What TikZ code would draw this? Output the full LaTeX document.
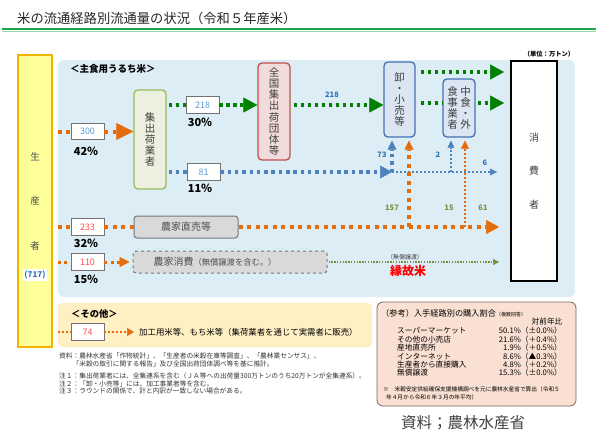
\documentclass[tikz,border=0pt]{standalone}
\usepackage{fontspec}
\setmainfont{Noto Sans CJK JP}
\usepackage{tikz}
\usetikzlibrary{arrows.meta}

\definecolor{barfill}{RGB}{255,255,153}
\definecolor{bardraw}{RGB}{240,180,0}
\definecolor{panelblue}{RGB}{221,237,246}
\definecolor{panelcream}{RGB}{255,240,196}
\definecolor{refpink}{RGB}{250,224,210}
\definecolor{refdraw}{RGB}{120,100,95}
\definecolor{shukafill}{RGB}{235,241,222}
\definecolor{shukadraw}{RGB}{155,187,89}
\definecolor{zenfill}{RGB}{242,220,219}
\definecolor{zendraw}{RGB}{192,80,77}
\definecolor{oroshifill}{RGB}{220,230,242}
\definecolor{oroshidraw}{RGB}{68,114,176}
\definecolor{grayfill}{RGB}{217,217,217}
\definecolor{graydraw}{RGB}{118,118,118}
\definecolor{flowOrange}{RGB}{228,108,10}
\definecolor{flowGreen}{RGB}{0,128,0}
\definecolor{flowBlue}{RGB}{79,129,189}
\definecolor{thinGreen}{RGB}{118,146,60}
\definecolor{numBlue}{RGB}{91,155,213}
\definecolor{numRed}{RGB}{255,80,80}
\definecolor{lblBlue}{RGB}{46,117,182}
\definecolor{titleGreen}{RGB}{30,165,75}

\begin{document}
\begin{tikzpicture}[x=1pt, y=-1pt,
    prodbar/.style={rectangle, draw=bardraw, fill=barfill, line width=1.6pt, minimum width=34pt, minimum height=292pt, inner sep=0pt, align=center, text=black!70, font=\fontsize{9.5}{44.5}\selectfont},
    stagebox/.style={rectangle, rounded corners=4pt, line width=1.3pt, inner sep=0pt, align=center, text=black!75, font=\fontsize{10.5}{11.2}\selectfont},
    graybox/.style={rectangle, rounded corners=3pt, draw=graydraw, fill=grayfill, line width=1pt, minimum height=22pt, inner sep=0pt, text=black!70},
    valbox/.style={rectangle, draw=black!55, fill=white, line width=0.7pt, minimum width=33pt, minimum height=16.5pt, inner sep=0pt, font=\fontsize{9}{9}\selectfont},
    pct/.style={inner sep=0pt, font=\bfseries\fontsize{11}{11}\selectfont},
    flowlabel/.style={inner sep=0pt, font=\bfseries\fontsize{7.5}{7.5}\selectfont},
    notetext/.style={anchor=west, align=left, inner sep=0pt, text=black!80, font=\fontsize{6.7}{7.5}\selectfont},
    reftext/.style={inner sep=0pt, font=\fontsize{7.7}{7.7}\selectfont},
    orangeflow/.style={flowOrange, line width=4pt, dash pattern=on 4pt off 4.5pt},
    orangemid/.style={flowOrange, line width=3pt, dash pattern=on 3pt off 3.5pt},
    orangethin/.style={flowOrange, line width=2pt, dash pattern=on 2pt off 2pt},
    greenflow/.style={flowGreen, line width=3.5pt, dash pattern=on 3.5pt off 3.5pt},
    greenthin/.style={thinGreen, line width=1.4pt, dash pattern=on 1.4pt off 1.4pt},
    blueflow/.style={flowBlue, line width=3.5pt, dash pattern=on 3.5pt off 3.8pt},
    bluethin/.style={flowBlue, line width=2pt, dash pattern=on 2pt off 2pt},
    bigtip/.style={-{Triangle[length=17pt, width=17pt, line width=0.5pt]}},
    midtip/.style={-{Triangle[length=13pt, width=14pt, line width=0.5pt]}},
    uptip/.style={-{Triangle[length=9pt, width=9pt, line width=0.5pt]}},
    smalltip/.style={-{Triangle[length=7pt, width=7pt, line width=0.5pt]}}
]
\useasboundingbox (0,0) rectangle (596,432);

% title
\node[anchor=west, inner sep=0pt, text=black!85, font=\fontsize{13.3}{13.3}\selectfont] (title) at (17,18) {米の流通経路別流通量の状況（令和５年産米）};
\draw[titleGreen, line width=2.4pt] (2,29) -- (596,29);
\draw[titleGreen!45, line width=1.2pt] (2,31.4) -- (596,31.4);

% === Panels ===
\fill[panelblue, rounded corners=6pt] (58,60) rectangle (575,297);
\fill[panelcream, rounded corners=4pt] (58,303) rectangle (372,347);
\draw[refdraw, fill=refpink, line width=0.8pt, rounded corners=6pt] (377,302) rectangle (576,406);

\node[anchor=west, inner sep=0pt, font=\bfseries\fontsize{9.5}{9.5}\selectfont] (shushoku) at (70,69) {＜主食用うるち米＞};
\node[inner sep=0pt, font=\bfseries\fontsize{6.3}{6.3}\selectfont] (unit) at (549,54) {（単位：万トン）};

% === Producer and consumer ===
\node[prodbar] (seisan) at (35,201) {生\\産\\者};
\node[fill=white, text=lblBlue, inner sep=1.5pt, font=\bfseries\fontsize{8}{8}\selectfont] (total) at (35,275) {(717)};
\node[rectangle, draw=black, fill=white, line width=1.8pt, minimum width=46pt, minimum height=220pt, inner sep=0pt, align=center, text=black!75, font=\fontsize{10}{33.5}\selectfont] (shohi) at (534,171) {消\\費\\者};

% === Stages ===
\node[stagebox, draw=shukadraw, fill=shukafill, minimum width=32pt, minimum height=99pt] (shuka) at (150,139.5) {集\\出\\荷\\業\\者};
\node[stagebox, draw=zendraw, fill=zenfill, minimum width=32pt, minimum height=97pt] (zenkoku) at (274,111.5) {全\\国\\集\\出\\荷\\団\\体\\等};
\node[stagebox, draw=oroshidraw, fill=oroshifill, minimum width=31pt, minimum height=75pt] (oroshi) at (399.5,99.5) {卸\\・\\小\\売\\等};
\node[stagebox, draw=oroshidraw, fill=oroshifill, minimum width=32pt, minimum height=58pt] (nakagai) at (459,108) {食\hspace{2.5pt}中\\事\hspace{2.5pt}食\\業\hspace{2.5pt}・\\者\hspace{2.5pt}外};
\node[graybox, minimum width=104pt, font=\fontsize{10}{10}\selectfont] (chokubai) at (186,227) {農家直売等};
\node[graybox, dashed, minimum width=194pt] (jika) at (230,262) {{\fontsize{10}{10}\selectfont 農家消費}{\fontsize{8.3}{10}\selectfont （無償譲渡を含む。）}\hspace*{30pt}};

% === Volumes ===
\node[valbox, text=numBlue] (v300) at (87.5,131.5) {300};
\node[valbox, text=numBlue] (v218) at (202.5,105) {218};
\node[valbox, text=numBlue] (v81) at (203.5,172) {81};
\node[valbox, text=numRed] (v233) at (87.5,227) {233};
\node[valbox, text=numRed] (v110) at (87.5,262) {110};
\node[valbox, text=numRed] (v74) at (87.5,332) {74};

\node[pct] (p300) at (86,151) {42％};
\node[pct] (p218) at (200,122) {30％};
\node[pct] (p81) at (200,188) {11％};
\node[pct] (p233) at (86,243) {32％};
\node[pct] (p110) at (86,279) {15％};

% === Flows ===
\coordinate (bj) at (392,172);
\coordinate (bk) at (451,172);
\coordinate (oj) at (409,227);
\coordinate (ok) at (465,227);
\coordinate (o1) at ([yshift=27.5pt]oroshi.east);
\coordinate (o2) at ([yshift=-3.5pt]oroshi.east);

% via shippers
\draw[orangeflow, shorten <=5pt] (seisan.east |- v300) -- (v300.west);
\draw[orangeflow, bigtip] (v300.east) -- (shuka.west |- v300);
\draw[greenflow, shorten <=2pt] (shuka.east |- v218) -- (v218.west);
\draw[greenflow, -{Triangle[length=14pt, width=15pt, line width=0.5pt]}] (v218.east) -- (zenkoku.west |- v218);
\draw[greenflow, shorten <=3pt, -{Triangle[length=14pt, width=15pt, line width=0.5pt]}] (zenkoku.east |- v218) -- (oroshi.west |- v218);
\node[flowlabel, text=lblBlue] (l218) at (332,95) {218};
\draw[blueflow, shorten <=2pt] (shuka.east |- v81) -- (v81.west);
\draw[blueflow, -{Triangle[length=12pt, width=13pt, line width=0.5pt]}] (v81.east) -- (bj);
\draw[blueflow, shorten >=3pt, uptip] (bj) -- (bj |- oroshi.south);
\draw[bluethin, shorten >=13pt, smalltip] (bj) -- (shohi.west |- bj);
\draw[bluethin, shorten >=3pt, -{Triangle[length=7pt, width=7pt, line width=0.5pt]}] (bk) -- (bk |- nakagai.south);
\node[flowlabel, text=lblBlue] (l73) at (382,155) {73};
\node[flowlabel, text=lblBlue] (l2) at (438,155) {2};
\node[flowlabel, text=lblBlue] (l6) at (485,163) {6};

% to consumer
\draw[greenflow, shorten <=5pt, shorten >=6pt, -{Triangle[length=14pt, width=15pt, line width=0.5pt]}] (o1) -- (shohi.west |- o1);
\draw[greenflow, shorten <=5pt] (o2) -- (nakagai.west |- o2);
\draw[greenflow, shorten <=2pt, shorten >=6pt, -{Triangle[length=14pt, width=15pt, line width=0.5pt]}] (nakagai.east |- o2) -- (shohi.west |- o2);

% direct sales
\draw[orangeflow, shorten <=5pt] (seisan.east |- v233) -- (v233.west);
\draw[orangeflow] (v233.east) -- (chokubai.west);
\draw[orangeflow, shorten >=11pt, midtip] (chokubai.east) -- (shohi.west |- chokubai);
\draw[orangeflow, shorten >=3pt, uptip] (oj) -- (oj |- oroshi.south);
\draw[orangethin, shorten >=3pt, -{Triangle[length=8pt, width=8pt, line width=0.5pt]}] (ok) -- (ok |- nakagai.south);
\node[flowlabel, text=thinGreen] (l157) at (392,208) {157};
\node[flowlabel, text=thinGreen] (l15) at (449,208) {15};
\node[flowlabel, text=thinGreen] (l61) at (483,208) {61};

% own consumption
\draw[orangemid, shorten <=5pt] (seisan.east |- v110) -- (v110.west);
\draw[orangemid, shorten >=3pt, -{Triangle[length=10pt, width=10pt, line width=0.5pt]}] (v110.east) -- (jika.west);
\draw[greenthin, shorten <=1pt, shorten >=11pt, -{Triangle[length=6pt, width=6pt, line width=0.5pt]}] (jika.east) -- (shohi.west |- jika);
\node[inner sep=0pt, text=black!75, font=\fontsize{6}{6}\selectfont] (mushou) at (405,257) {（無償譲渡）};
\node[inner sep=0pt, text=red, font=\bfseries\fontsize{12}{12}\selectfont] (enko) at (408,271) {縁故米};

% === Other uses ===
\node[anchor=west, inner sep=0pt, font=\bfseries\fontsize{9.3}{9.3}\selectfont] (sonota) at (71,314) {＜その他＞};
\node[anchor=west, inner sep=0pt, font=\fontsize{8.4}{8.4}\selectfont] (kako) at (139,332) {加工用米等、もち米等（集荷業者を通じて実需者に販売）};
\draw[orangethin, shorten <=5pt] (seisan.east |- v74) -- (v74.west);
\draw[orangethin, shorten >=5pt, -{Triangle[length=7pt, width=8pt, line width=0.5pt]}] (v74.east) -- (kako.west);

% notes
\node[notetext] (source) at (59,359.75) {資料：農林水産省「作物統計」、「生産者の米穀在庫等調査」、「農林業センサス」、\\\hspace*{2em}「米穀の取引に関する報告」及び全国出荷団体調べ等を基に推計。};
\node[notetext] (notes) at (59,383.5) {注１：集出荷業者には、全集連系を含む（ＪＡ等への出荷量300万トンのうち20万トンが全集連系）。\\注２：「卸・小売等」には、加工事業者等を含む。\\注３：ラウンドの関係で、計と内訳が一致しない場合がある。};

% === Reference table ===
\node[anchor=west, inner sep=0pt, font=\fontsize{8.2}{8.2}\selectfont] (reftitle) at (381,313) {（参考）入手経路別の購入割合{\fontsize{5}{5}\selectfont（複数回答）}};
\node[reftext] (yoy) at (547,322) {対前年比};
\foreach \kind/\share [count=\i] in {スーパーマーケット/50.1\%（±0.0\%）, その他の小売店/21.6\%（＋0.4\%）, 産地直売所/1.9\%（＋0.5\%）, インターネット/8.6\%（▲0.3\%）, 生産者から直接購入/4.8\%（＋0.2\%）, 無償譲渡/15.3\%（±0.0\%）} {
  \node[reftext, anchor=west] (kind\i) at (397,{322.6+8.4*\i}) {\kind};
  \node[reftext, anchor=east] (share\i) at (562,{322.6+8.4*\i}) {\share};
}
\node[anchor=west, align=left, inner sep=0pt, font=\fontsize{5.7}{8}\selectfont] (refnote) at (383,393) {※\hspace{1em}米穀安定供給確保支援機構調べを元に農林水産省で算出（令和５\\\hspace*{0.5em}年４月から令和６年３月の年平均）};

\node[anchor=west, inner sep=0pt, text=black!75, font=\fontsize{15.5}{15.5}\selectfont] (credit) at (401,423) {資料；農林水産省};

\end{tikzpicture}
\end{document}
